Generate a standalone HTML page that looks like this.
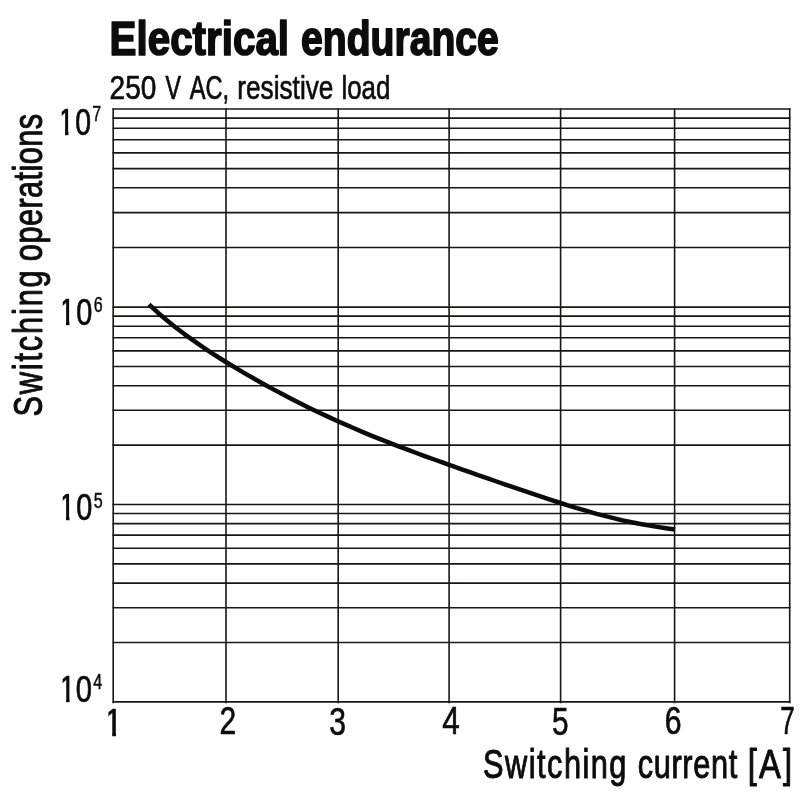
<!DOCTYPE html>
<html><head><meta charset="utf-8"><title>Electrical endurance</title>
<style>
html,body{margin:0;padding:0;background:#fff;}
body{width:800px;height:800px;overflow:hidden;}
svg{display:block;will-change:transform;}
text{font-family:"Liberation Sans",sans-serif;fill:#0c0c0c;stroke:#0c0c0c;vector-effect:non-scaling-stroke;stroke-linejoin:round;}
</style></head><body>
<svg xmlns="http://www.w3.org/2000/svg" width="800" height="800" viewBox="0 0 800 800">
<rect width="800" height="800" fill="#fff"/>
<g stroke="#161816" stroke-width="1.6" fill="none">
<line x1="112.5" y1="701.9" x2="790.5" y2="701.9"/>
<line x1="112.5" y1="642.5" x2="790.5" y2="642.5"/>
<line x1="112.5" y1="607.7" x2="790.5" y2="607.7"/>
<line x1="112.5" y1="583.1" x2="790.5" y2="583.1"/>
<line x1="112.5" y1="563.9" x2="790.5" y2="563.9"/>
<line x1="112.5" y1="548.3" x2="790.5" y2="548.3"/>
<line x1="112.5" y1="535.1" x2="790.5" y2="535.1"/>
<line x1="112.5" y1="523.6" x2="790.5" y2="523.6"/>
<line x1="112.5" y1="513.5" x2="790.5" y2="513.5"/>
<line x1="112.5" y1="504.5" x2="790.5" y2="504.5"/>
<line x1="112.5" y1="445.1" x2="790.5" y2="445.1"/>
<line x1="112.5" y1="410.3" x2="790.5" y2="410.3"/>
<line x1="112.5" y1="385.7" x2="790.5" y2="385.7"/>
<line x1="112.5" y1="366.5" x2="790.5" y2="366.5"/>
<line x1="112.5" y1="350.9" x2="790.5" y2="350.9"/>
<line x1="112.5" y1="337.7" x2="790.5" y2="337.7"/>
<line x1="112.5" y1="326.2" x2="790.5" y2="326.2"/>
<line x1="112.5" y1="316.1" x2="790.5" y2="316.1"/>
<line x1="112.5" y1="307.1" x2="790.5" y2="307.1"/>
<line x1="112.5" y1="247.5" x2="790.5" y2="247.5"/>
<line x1="112.5" y1="212.6" x2="790.5" y2="212.6"/>
<line x1="112.5" y1="187.8" x2="790.5" y2="187.8"/>
<line x1="112.5" y1="168.6" x2="790.5" y2="168.6"/>
<line x1="112.5" y1="152.9" x2="790.5" y2="152.9"/>
<line x1="112.5" y1="139.7" x2="790.5" y2="139.7"/>
<line x1="112.5" y1="128.2" x2="790.5" y2="128.2"/>
<line x1="112.5" y1="118.1" x2="790.5" y2="118.1"/>
<line x1="112.5" y1="109.0" x2="790.5" y2="109.0"/>
<line x1="113.2" y1="108.2" x2="113.2" y2="703.2"/>
<line x1="226.0" y1="108.2" x2="226.0" y2="703.2"/>
<line x1="338.2" y1="108.2" x2="338.2" y2="703.2"/>
<line x1="449.1" y1="108.2" x2="449.1" y2="703.2"/>
<line x1="560.6" y1="108.2" x2="560.6" y2="703.2"/>
<line x1="674.6" y1="108.2" x2="674.6" y2="703.2"/>
<line x1="789.7" y1="108.2" x2="789.7" y2="703.2"/>
</g>
<path d="M149.0,304.4 L157.9,312.7 L166.8,320.3 L175.7,327.5 L184.7,334.3 L193.6,340.7 L202.5,346.8 L211.4,352.8 L220.3,358.5 L229.2,364.0 L238.1,369.4 L247.0,374.6 L256.0,379.7 L264.9,384.7 L273.8,389.6 L282.7,394.3 L291.6,399.0 L300.5,403.5 L309.4,407.9 L318.4,412.2 L327.3,416.4 L336.2,420.5 L345.1,424.4 L354.0,428.3 L362.9,432.1 L371.8,435.8 L380.8,439.4 L389.7,442.9 L398.6,446.3 L407.5,449.7 L416.4,453.0 L425.3,456.3 L434.2,459.5 L443.1,462.7 L452.1,465.9 L461.0,469.1 L469.9,472.2 L478.8,475.3 L487.7,478.4 L496.6,481.5 L505.5,484.6 L514.5,487.7 L523.4,490.7 L532.3,493.7 L541.2,496.7 L550.1,499.7 L559.0,502.5 L567.9,505.4 L576.9,508.1 L585.8,510.7 L594.7,513.3 L603.6,515.7 L612.5,517.9 L621.4,520.1 L630.3,522.0 L639.2,523.8 L648.2,525.4 L657.1,526.9 L666.0,528.2 L674.9,529.5" fill="none" stroke="#0b0b0b" stroke-width="4.5" stroke-linejoin="round"/>
<text id="t1" transform="translate(109.57,55.4) scale(0.824,1)" font-size="49" font-weight="bold" stroke-width="1.6" letter-spacing="0" stroke-linejoin="miter" text-anchor="start">Electrical</text>
<text id="t2" transform="translate(301.0,55.4) scale(0.7988,1)" font-size="49" font-weight="bold" stroke-width="1.6" letter-spacing="0" stroke-linejoin="miter" text-anchor="start">endurance</text>
<text id="s1" transform="translate(109.52,98.7) scale(0.8514,1)" font-size="33" font-weight="normal" stroke-width="0.6" letter-spacing="0" stroke-linejoin="round" text-anchor="start">250</text>
<text id="s2" transform="translate(165.62,98.7) scale(0.7016,1)" font-size="33" font-weight="normal" stroke-width="0.6" letter-spacing="0" stroke-linejoin="round" text-anchor="start">V</text>
<text id="s3" transform="translate(189.67,98.7) scale(0.716,1)" font-size="33" font-weight="normal" stroke-width="0.6" letter-spacing="0" stroke-linejoin="round" text-anchor="start">AC,</text>
<text id="s4" transform="translate(237.25,98.7) scale(0.7947,1)" font-size="33" font-weight="normal" stroke-width="0.6" letter-spacing="0" stroke-linejoin="round" text-anchor="start">resistive</text>
<text id="s5" transform="translate(341.48,98.7) scale(0.7843,1)" font-size="33" font-weight="normal" stroke-width="0.6" letter-spacing="0" stroke-linejoin="round" text-anchor="start">load</text>
<text id="xl1" transform="translate(483.09,777.5) scale(0.75,1)" font-size="41" font-weight="normal" stroke-width="0.9" letter-spacing="1.973" stroke-linejoin="round" text-anchor="start">Switching</text>
<text id="xl2" transform="translate(637.64,777.5) scale(0.75,1)" font-size="41" font-weight="normal" stroke-width="0.9" letter-spacing="0.902" stroke-linejoin="round" text-anchor="start">current</text>
<text id="xl3" transform="translate(747.86,777.5) scale(0.8,1)" font-size="41" font-weight="normal" stroke-width="0.9" letter-spacing="2.668" stroke-linejoin="round" text-anchor="start">[A]</text>
<text id="yl1" transform="translate(42.0,416.6) rotate(-90) scale(0.75,1)" font-size="41" font-weight="normal" stroke-width="0.9" letter-spacing="2.462" stroke-linejoin="round" text-anchor="start">Switching</text>
<text id="yl2" transform="translate(42.0,261.13) rotate(-90) scale(0.75,1)" font-size="41" font-weight="normal" stroke-width="0.9" letter-spacing="0.552" stroke-linejoin="round" text-anchor="start">operations</text>
<text id="y7" transform="translate(75.32,134.5) scale(0.7776,1)" font-size="36.5" font-weight="normal" stroke-width="0.6" letter-spacing="0" stroke-linejoin="round" text-anchor="start">0</text>
<text id="e7" transform="translate(92.34,121.2) scale(0.74,1)" font-size="21.8" font-weight="normal" stroke-width="0.4" letter-spacing="0" stroke-linejoin="round" text-anchor="start">7</text>
<text id="y6" transform="translate(76.14,324.5) scale(0.7902,1)" font-size="36.5" font-weight="normal" stroke-width="0.6" letter-spacing="0" stroke-linejoin="round" text-anchor="start">0</text>
<text id="e6" transform="translate(93.77,311.9) scale(0.74,1)" font-size="21.8" font-weight="normal" stroke-width="0.4" letter-spacing="0" stroke-linejoin="round" text-anchor="start">6</text>
<text id="y5" transform="translate(76.14,520.1) scale(0.7902,1)" font-size="36.5" font-weight="normal" stroke-width="0.6" letter-spacing="0" stroke-linejoin="round" text-anchor="start">0</text>
<text id="e5" transform="translate(93.8,508.2) scale(0.74,1)" font-size="21.8" font-weight="normal" stroke-width="0.4" letter-spacing="0" stroke-linejoin="round" text-anchor="start">5</text>
<text id="y4" transform="translate(75.86,701.5) scale(0.7972,1)" font-size="36.5" font-weight="normal" stroke-width="0.6" letter-spacing="0" stroke-linejoin="round" text-anchor="start">0</text>
<text id="e4" transform="translate(93.26,689.0) scale(0.74,1)" font-size="21.8" font-weight="normal" stroke-width="0.4" letter-spacing="0" stroke-linejoin="round" text-anchor="start">4</text>
<text id="x2" transform="translate(219.52,734.4) scale(0.7846,1)" font-size="38.3" font-weight="normal" stroke-width="0.6" letter-spacing="0" stroke-linejoin="round" text-anchor="start">2</text>
<text id="x3" transform="translate(329.14,734.6) scale(0.7862,1)" font-size="38.3" font-weight="normal" stroke-width="0.6" letter-spacing="0" stroke-linejoin="round" text-anchor="start">3</text>
<text id="x4" transform="translate(442.37,734.4) scale(0.8229,1)" font-size="38.3" font-weight="normal" stroke-width="0.6" letter-spacing="0" stroke-linejoin="round" text-anchor="start">4</text>
<text id="x5" transform="translate(551.88,734.6) scale(0.7781,1)" font-size="38.3" font-weight="normal" stroke-width="0.6" letter-spacing="0" stroke-linejoin="round" text-anchor="start">5</text>
<text id="x6" transform="translate(664.73,734.4) scale(0.79,1)" font-size="38.3" font-weight="normal" stroke-width="0.6" letter-spacing="0" stroke-linejoin="round" text-anchor="start">6</text>
<text id="x7" transform="translate(780.21,734.3) scale(0.6797,1)" font-size="38.3" font-weight="normal" stroke-width="0.6" letter-spacing="0" stroke-linejoin="round" text-anchor="start">7</text>
<clipPath id="c1" clipPathUnits="userSpaceOnUse"><path d="M108.45,707.80 L115.95,707.80 L115.95,737.40 L112.20,737.40 L112.20,731.76 L108.45,731.76 Z"/></clipPath>
<g clip-path="url(#c1)"><text id="one1" transform="translate(103.95,736.10) scale(0.8732,1)" font-size="39.24" stroke-width="0.6">1</text></g>
<clipPath id="c7" clipPathUnits="userSpaceOnUse"><path d="M61.75,108.00 L68.45,108.00 L68.45,135.80 L65.00,135.80 L65.00,130.35 L61.75,130.35 Z"/></clipPath>
<g clip-path="url(#c7)"><text id="one7" transform="translate(57.59,134.50) scale(0.8436,1)" font-size="36.63" stroke-width="0.6">1</text></g>
<clipPath id="c6" clipPathUnits="userSpaceOnUse"><path d="M62.75,297.90 L69.45,297.90 L69.45,325.80 L66.00,325.80 L66.00,320.34 L62.75,320.34 Z"/></clipPath>
<g clip-path="url(#c6)"><text id="one6" transform="translate(58.59,324.50) scale(0.8403,1)" font-size="36.77" stroke-width="0.6">1</text></g>
<clipPath id="c5" clipPathUnits="userSpaceOnUse"><path d="M62.75,493.40 L69.45,493.40 L69.45,521.40 L66.00,521.40 L66.00,515.93 L62.75,515.93 Z"/></clipPath>
<g clip-path="url(#c5)"><text id="one5" transform="translate(58.59,520.10) scale(0.8369,1)" font-size="36.92" stroke-width="0.6">1</text></g>
<clipPath id="c4" clipPathUnits="userSpaceOnUse"><path d="M62.65,675.00 L69.55,675.00 L69.55,702.80 L66.10,702.80 L66.10,697.35 L62.65,697.35 Z"/></clipPath>
<g clip-path="url(#c4)"><text id="one4" transform="translate(58.69,701.50) scale(0.8436,1)" font-size="36.63" stroke-width="0.6">1</text></g>
</svg>
</body></html>
